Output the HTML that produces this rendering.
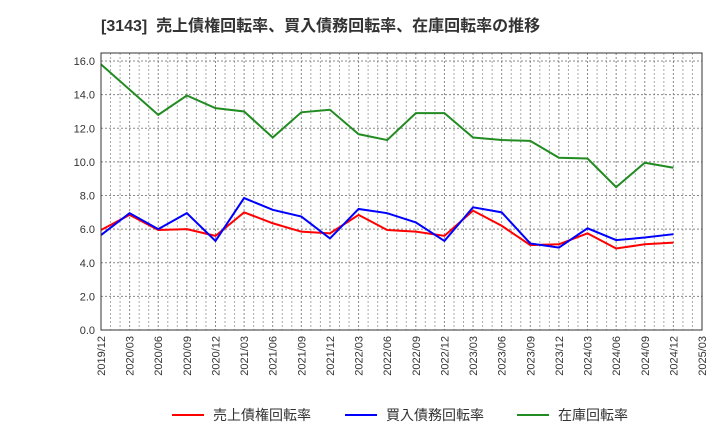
<!DOCTYPE html>
<html><head><meta charset="utf-8"><style>
body{margin:0;background:#fff;font-family:"Liberation Sans","Noto Sans CJK JP",sans-serif}
</style></head><body>
<svg width="720" height="440" xmlns="http://www.w3.org/2000/svg" font-family="Liberation Sans, Noto Sans CJK JP, sans-serif">
<text x="101" y="31" font-size="16" font-weight="bold" fill="#333" xml:space="preserve">[3143]  売上債権回転率、買入債務回転率、在庫回転率の推移</text>
<g id="grid"></g><g id="axes"></g><g id="series"></g>
<rect x="101" y="53" width="601" height="277" fill="none" stroke="#333" stroke-width="1"/>
<g font-size="14" fill="#333">
<line x1="172" y1="415" x2="204" y2="415" stroke="#ff0000" stroke-width="2"/><text x="213" y="420">売上債権回転率</text>
<line x1="345" y1="415" x2="377" y2="415" stroke="#0000ff" stroke-width="2"/><text x="386" y="420">買入債務回転率</text>
<line x1="517" y1="415" x2="549" y2="415" stroke="#228b22" stroke-width="2"/><text x="558" y="420">在庫回転率</text>
</g>
</svg>
<script>
const xLabels=["2019/12","2020/03","2020/06","2020/09","2020/12","2021/03","2021/06","2021/09","2021/12","2022/03","2022/06","2022/09","2022/12","2023/03","2023/06","2023/09","2023/12","2024/03","2024/06","2024/09","2024/12","2025/03"];
const yTicks=[0,2,4,6,8,10,12,14,16];
const inventory=[15.8,14.3,12.8,13.95,13.2,13.0,11.45,12.95,13.1,11.65,11.3,12.9,12.9,11.45,11.3,11.25,10.25,10.2,8.5,9.95,9.65];
const receivables=[5.95,6.85,5.95,6.0,5.6,7.0,6.35,5.85,5.75,6.85,5.95,5.85,5.6,7.1,6.2,5.05,5.1,5.75,4.85,5.1,5.2];
const payables=[5.65,6.95,6.0,6.95,5.3,7.85,7.15,6.75,5.45,7.2,6.95,6.4,5.3,7.3,7.0,5.15,4.9,6.05,5.35,5.5,5.7];
const NS="http://www.w3.org/2000/svg";
const L=101,R=702,B=330;
const step=(R-L)/(xLabels.length-1);
const xs=i=>L+i*step;
const ys=v=>B-v*16.81;
function mk(t,a,p){const e=document.createElementNS(NS,t);for(const k in a)e.setAttribute(k,a[k]);p.appendChild(e);return e;}
const grid=document.getElementById('grid'),axes=document.getElementById('axes'),ser=document.getElementById('series');
for(let m=1;m<(xLabels.length-1)*3;m++){
 if(m%3===0)continue;
 const g=mk('line',{x1:L+m*step/3,x2:L+m*step/3,y1:53,y2:B,stroke:'#aaa','stroke-dasharray':'2,2','stroke-width':1},grid);
 
 
}
xLabels.forEach((l,i)=>{
 const g=mk('line',{x1:xs(i),x2:xs(i),y1:53,y2:B,stroke:'#888','stroke-dasharray':'2,2','stroke-width':1},grid);
 
 
 const t=mk('text',{x:0,y:0,'font-size':11,fill:'#333','text-anchor':'end',transform:`translate(${xs(i)+4},${B+6}) rotate(-90)`},axes);
 t.textContent=l;
 
 
});
yTicks.forEach(v=>{
 const g=mk('line',{x1:L,x2:R,y1:ys(v),y2:ys(v),stroke:'#888','stroke-dasharray':'2,2','stroke-width':1},grid);
 
 
 const t=mk('text',{x:L-6,y:ys(v)+4,'font-size':11,fill:'#333','text-anchor':'end'},axes);
 t.textContent=v.toFixed(1);
 
 
});
[[inventory,'#228b22','inventory-line'],[receivables,'#ff0000','receivables-line'],[payables,'#0000ff','payables-line']].forEach(([d,c,n])=>{
 const p=mk('polyline',{points:d.map((v,i)=>xs(i)+','+ys(v)).join(' '),fill:'none',stroke:c,'stroke-width':2},ser);
 
 
});
</script>
</body></html>
